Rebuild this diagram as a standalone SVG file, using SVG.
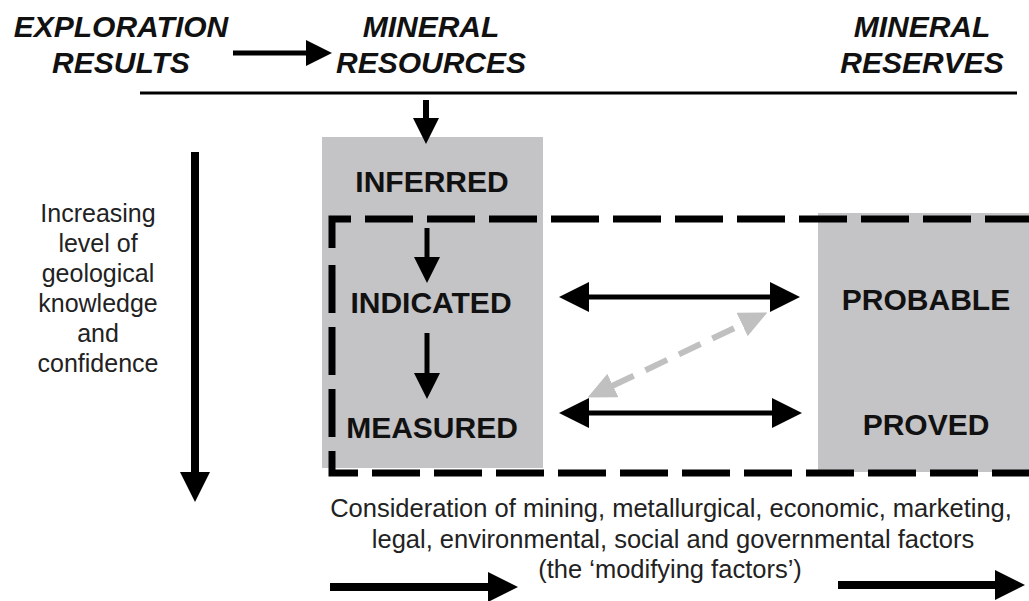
<svg xmlns="http://www.w3.org/2000/svg" width="1029" height="601" viewBox="0 0 1029 601">
  <style>
    .hdr { font-family: "Liberation Sans", Arial, sans-serif; font-size: 30px; font-weight: bold; font-style: italic; fill: #111; text-anchor: middle; }
    .cls { font-family: "Liberation Sans", Arial, sans-serif; font-size: 30px; font-weight: bold; fill: #111; text-anchor: middle; }
    .note { font-family: "Liberation Sans", Arial, sans-serif; font-size: 25px; fill: #222; text-anchor: middle; }
    .factors { font-size: 25.5px; }
    .box { fill: #c4c3c6; }
    .dash { fill: none; stroke: #000; stroke-width: 7; stroke-dasharray: 48 14; }
    .arr { fill: none; stroke: #000; }
    .garr { fill: none; stroke: #c0c0c0; stroke-width: 6; stroke-dasharray: 24 13; }
  </style>
  <defs>
    <marker id="headS" viewBox="0 0 26 26" markerWidth="26" markerHeight="26" refX="1" refY="13" orient="auto-start-reverse" markerUnits="userSpaceOnUse">
      <path d="M0,0 L26,13 L0,26 Z" fill="#000"/>
    </marker>
    <marker id="headL" viewBox="0 0 30 30" markerWidth="30" markerHeight="30" refX="1" refY="15" orient="auto-start-reverse" markerUnits="userSpaceOnUse">
      <path d="M0,0 L30,15 L0,30 Z" fill="#000"/>
    </marker>
    <marker id="headG" viewBox="0 0 28 26" markerWidth="28" markerHeight="26" refX="1" refY="13" orient="auto-start-reverse" markerUnits="userSpaceOnUse">
      <path d="M0,0 L28,13 L0,26 Z" fill="#c0c0c0"/>
    </marker>
  </defs>

  <rect width="1029" height="601" fill="#fff"/>

  <!-- column headings -->
  <g id="exploration-results">
    <text class="hdr" x="121" y="37">EXPLORATION</text>
    <text class="hdr" x="121" y="73">RESULTS</text>
  </g>
  <g id="mineral-resources">
    <text class="hdr" x="431" y="37">MINERAL</text>
    <text class="hdr" x="431" y="73">RESOURCES</text>
  </g>
  <g id="mineral-reserves">
    <text class="hdr" x="922" y="37">MINERAL</text>
    <text class="hdr" x="922" y="73">RESERVES</text>
  </g>
  <line x1="140" y1="93" x2="1017" y2="93" stroke="#000" stroke-width="3"/>

  <!-- resource and reserve categories -->
  <g id="resources-column">
    <rect class="box" x="322" y="137" width="221" height="331"/>
  </g>
  <g id="reserves-column">
    <rect class="box" x="818" y="213" width="211" height="259"/>
  </g>
  <g id="inferred"><text class="cls" x="432" y="192">INFERRED</text></g>
  <g id="indicated"><text class="cls" x="431" y="313">INDICATED</text></g>
  <g id="measured"><text class="cls" x="432" y="438">MEASURED</text></g>
  <g id="probable"><text class="cls" x="926" y="310">PROBABLE</text></g>
  <g id="proved"><text class="cls" x="926" y="435">PROVED</text></g>

  <!-- modifying-factors boundary -->
  <g id="boundary">
    <path class="dash" d="M332,248 V219 H1040"/>
    <path class="dash" d="M332,265 V473 H1040"/>
  </g>

  <!-- side and bottom notes -->
  <g id="confidence-note">
    <text class="note" x="98" y="222">Increasing</text>
    <text class="note" x="98" y="252">level of</text>
    <text class="note" x="98" y="282">geological</text>
    <text class="note" x="98" y="312">knowledge</text>
    <text class="note" x="98" y="342">and</text>
    <text class="note" x="98" y="372">confidence</text>
  </g>
  <g id="modifying-factors-note">
    <text class="note factors" x="671" y="517">Consideration of mining, metallurgical, economic, marketing,</text>
    <text class="note factors" x="673" y="548">legal, environmental, social and governmental factors</text>
    <text class="note factors" x="670" y="578">(the ‘modifying factors’)</text>
  </g>

  <g id="connectors">
    <line class="arr" x1="233" y1="53" x2="307" y2="53" stroke-width="5" marker-end="url(#headS)"/>
    <line class="arr" x1="426" y1="100" x2="426" y2="119" stroke-width="6" marker-end="url(#headS)"/>
    <line class="arr" x1="427" y1="228" x2="427" y2="258" stroke-width="5" marker-end="url(#headS)"/>
    <line class="arr" x1="427" y1="333" x2="427" y2="374" stroke-width="5" marker-end="url(#headS)"/>
    <line class="arr" x1="588" y1="297" x2="771" y2="297" stroke-width="5" marker-start="url(#headL)" marker-end="url(#headL)"/>
    <line class="arr" x1="588" y1="413" x2="773" y2="413" stroke-width="5" marker-start="url(#headL)" marker-end="url(#headL)"/>
    <line class="garr" x1="612" y1="386" x2="743" y2="324" marker-start="url(#headG)" marker-end="url(#headG)"/>
    <line class="arr" x1="195" y1="152" x2="195" y2="473" stroke-width="8" marker-end="url(#headL)"/>
    <line class="arr" x1="330" y1="587" x2="489" y2="587" stroke-width="8" marker-end="url(#headL)"/>
    <line class="arr" x1="838" y1="585" x2="996" y2="585" stroke-width="8" marker-end="url(#headL)"/>
  </g>
</svg>
